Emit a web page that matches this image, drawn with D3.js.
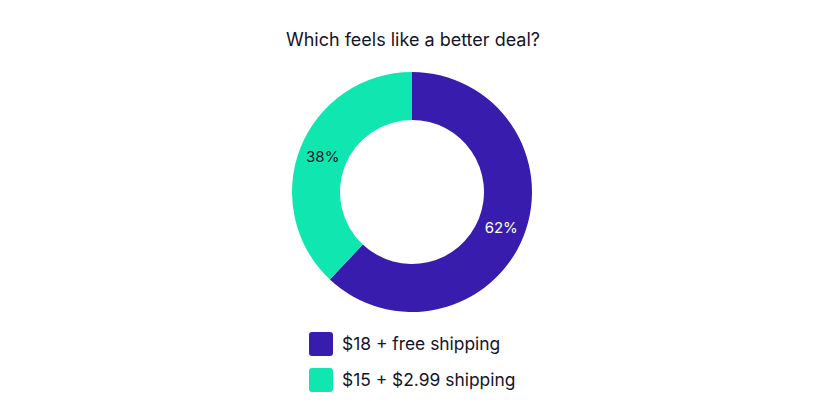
<!DOCTYPE html>
<html><head><meta charset="utf-8">
<script src="https://cdn.jsdelivr.net/npm/d3@7"></script>
<style>
html,body{margin:0;padding:0;background:#fff;}
svg{display:block;font-family:Inter,"Noto Sans",sans-serif;}
</style></head>
<body>
<svg id="chart" width="824" height="420"></svg>
<script>
const title = "Which feels like a better deal?";
const categories = ["$18 + free shipping", "$15 + $2.99 shipping"];
const values = [62, 38];
const colors = ["#381CAE", "#10E6B0"];
const labelColors = ["#ffffff", "#14142b"];

const svg = d3.select("#chart");
const W = 824, H = 420;
const cx = 412, cy = 192, rOuter = 120, rInner = 72;

svg.append("text").attr("x", W/2 + 1).attr("y", 46).attr("text-anchor","middle")
  .attr("font-size", 18).attr("fill", "#14142b").text(title);

const pie = d3.pie().sort(null).value(d => d)(values);
const arc = d3.arc().innerRadius(rInner).outerRadius(rOuter);
const g = svg.append("g").attr("transform", `translate(${cx},${cy})`);
g.selectAll("path").data(pie).join("path").attr("d", arc).attr("fill", (d,i) => colors[i]);
g.selectAll("text.lbl").data(pie).join("text").attr("class","lbl")
  .attr("transform", d => `translate(${arc.centroid(d)})`)
  .attr("text-anchor","middle").attr("dy","0.35em").attr("font-size", 15)
  .attr("fill", (d,i) => labelColors[i]).text(d => d.data + "%");

const lg = svg.append("g").attr("transform", "translate(309,332)");
const items = lg.selectAll("g").data(categories).join("g")
  .attr("transform", (d,i) => `translate(0,${i*36})`);
items.append("rect").attr("width",24).attr("height",24).attr("rx",3).attr("fill",(d,i)=>colors[i]);
items.append("text").attr("x",33).attr("y",12).attr("dy","0.35em").attr("font-size",17.4)
  .attr("fill","#14142b").text(d => d);
</script>
</body></html>
